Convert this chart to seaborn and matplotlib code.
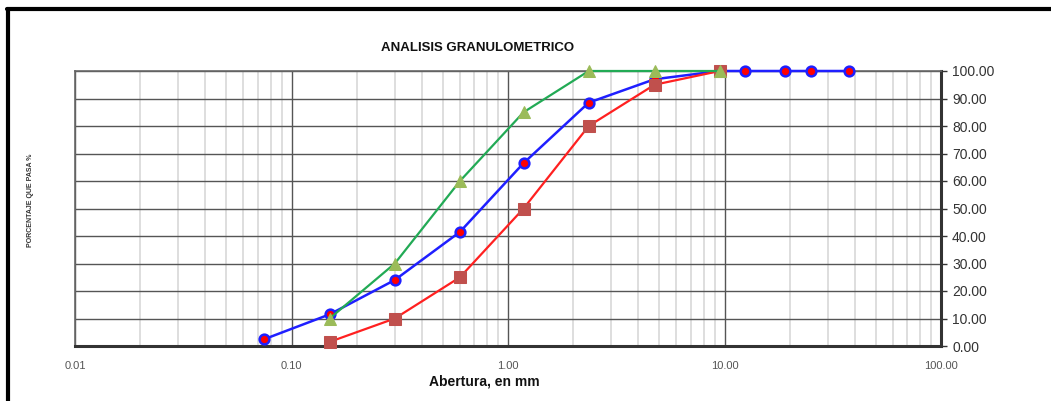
import numpy as np
import pandas as pd
import matplotlib
matplotlib.use("Agg")
import matplotlib.pyplot as plt
import seaborn as sns
from matplotlib.ticker import FixedLocator, FixedFormatter, LogLocator, NullFormatter
from matplotlib.lines import Line2D

# Data
sieve_blue = [0.075, 0.15, 0.30, 0.60, 1.18, 2.36, 4.75, 9.5, 12.5, 19.0, 25.0, 37.5]
pass_blue = [2.5, 11.5, 24.0, 41.5, 66.5, 88.5, 97.0, 100.0, 100.0, 100.0, 100.0, 100.0]
sieve_lim = [0.15, 0.30, 0.60, 1.18, 2.36, 4.75, 9.5]
pass_low = [1.5, 10.0, 25.0, 50.0, 80.0, 95.0, 100.0]
pass_high = [10.0, 30.0, 60.0, 85.0, 100.0, 100.0, 100.0]
x_ticks = [0.01, 0.1, 1, 10, 100]
x_ticklabels = ["0.01", "0.10", "1.00", "10.00", "100.00"]
y_ticks = [0, 10, 20, 30, 40, 50, 60, 70, 80, 90, 100]
y_ticklabels = [f"{v:.2f}" for v in y_ticks]

sns.set_style("white")
plt.rcParams['font.family'] = ['Liberation Sans', 'DejaVu Sans']

fig = plt.figure(figsize=(10.51, 4.01), dpi=100)
W, H = 1051, 401
x0, x1, y0, y1 = 75, 941, 71, 346
ax = fig.add_axes([x0 / W, 1 - y1 / H, (x1 - x0) / W, (y1 - y0) / H])

df_blue = pd.DataFrame({"x": sieve_blue, "y": pass_blue})
df_low = pd.DataFrame({"x": sieve_lim, "y": pass_low})
df_high = pd.DataFrame({"x": sieve_lim, "y": pass_high})

sns.lineplot(data=df_blue, x="x", y="y", ax=ax, color="#1f1fff", lw=1.8,
             marker="o", markersize=7, markerfacecolor="#ff0000",
             markeredgecolor="#1f1fff", markeredgewidth=1.8, zorder=3, clip_on=False)
sns.lineplot(data=df_low, x="x", y="y", ax=ax, color="#ff2020", lw=1.6,
             marker="s", markersize=9, markerfacecolor="#c0504d",
             markeredgecolor="#c0504d", zorder=4, clip_on=False)
sns.lineplot(data=df_high, x="x", y="y", ax=ax, color="#22aa55", lw=1.6,
             marker="^", markersize=9, markerfacecolor="#9bbb59",
             markeredgecolor="#9bbb59", zorder=5, clip_on=False)

ax.set_xscale("log")
ax.set_xlim(0.01, 100)
ax.set_ylim(0, 100)

ax.xaxis.set_major_locator(FixedLocator(x_ticks))
ax.xaxis.set_major_formatter(FixedFormatter(x_ticklabels))
ax.xaxis.set_minor_locator(LogLocator(base=10, subs=np.arange(2, 10)))
ax.xaxis.set_minor_formatter(NullFormatter())
ax.yaxis.set_major_locator(FixedLocator(y_ticks))
ax.yaxis.set_major_formatter(FixedFormatter(y_ticklabels))

ax.yaxis.tick_right()
ax.tick_params(axis="y", which="major", direction="out", length=4, width=1,
               labelsize=10, labelcolor="#333333", color="#333333", pad=4)
ax.tick_params(axis="x", which="major", direction="out", length=4, width=1,
               labelsize=8, labelcolor="#555555", color="#333333", pad=7)
ax.tick_params(axis="x", which="minor", length=0)

ax.grid(True, which="major", axis="both", color="#555555", lw=1.0, zorder=0)
ax.grid(True, which="minor", axis="x", color="#d8d8d8", lw=1.2, zorder=0)
ax.set_axisbelow(True)

for s in ["top", "left"]:
    ax.spines[s].set_color("#666666")
    ax.spines[s].set_linewidth(1.2)
for s in ["bottom", "right"]:
    ax.spines[s].set_color("#333333")
    ax.spines[s].set_linewidth(2.2)

ax.set_xlabel("")
ax.set_ylabel("")

fig.text(478 / W, 1 - 48 / H, "ANALISIS GRANULOMETRICO", ha="center", va="center",
         fontsize=9.5, fontweight="bold", color="#111111")
fig.text(484 / W, 1 - 381 / H, "Abertura, en mm", ha="center", va="center",
         fontsize=10, fontweight="bold", color="#111111")
fig.text(31 / W, 1 - 200 / H, "PORCENTAJE QUE PASA %", ha="center", va="center",
         rotation=90, fontsize=5, fontweight="bold", color="#333333")

# figure frame (thick black border on top and left)
fig.add_artist(Line2D([8 / W, 8 / W], [0, 1 - 9 / H], transform=fig.transFigure,
                      color="black", lw=3))
fig.add_artist(Line2D([7 / W, 1], [1 - 9 / H, 1 - 9 / H], transform=fig.transFigure,
                      color="black", lw=3))

fig.savefig("out.png", dpi=100, facecolor="white")
